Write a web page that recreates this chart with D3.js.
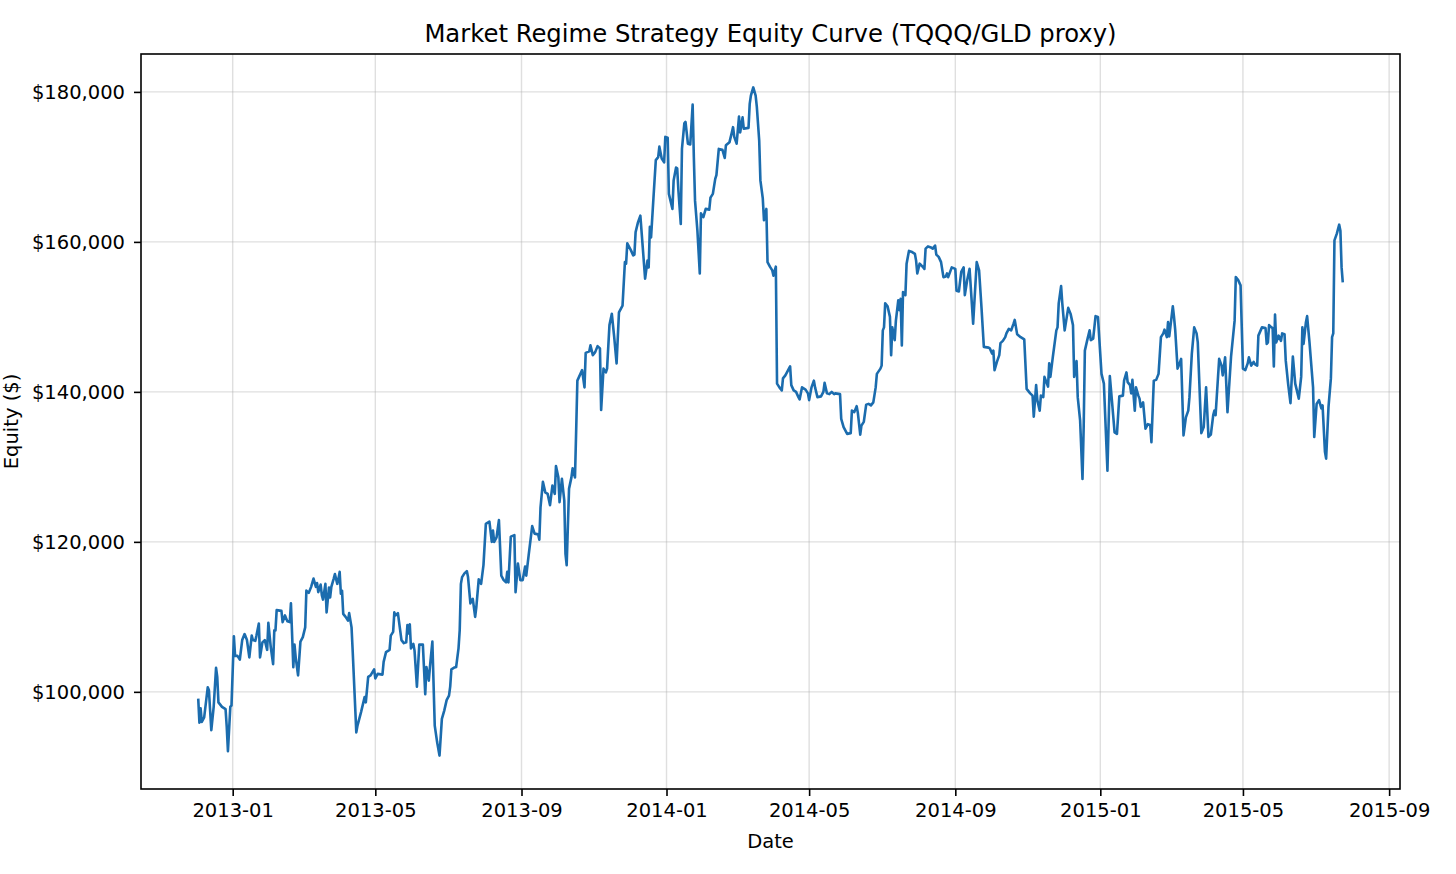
<!DOCTYPE html>
<html>
<head>
<meta charset="utf-8">
<script src="https://cdn.jsdelivr.net/npm/d3@7"></script>
<style>
  body { margin: 0; background: #fff; }
  svg text { font-family: "DejaVu Sans", sans-serif; fill: #000; }
</style>
</head>
<body>
<svg id="chart" width="1456" height="874"></svg>
<script>
// equity readings (date, value)
var dates = [
  "2012-12-03","2012-12-04","2012-12-05","2012-12-06","2012-12-08","2012-12-11","2012-12-12","2012-12-14","2012-12-16","2012-12-18","2012-12-19","2012-12-20","2012-12-23","2012-12-26","2012-12-27","2012-12-28","2012-12-30","2012-12-31",
  "2013-01-02","2013-01-03","2013-01-05","2013-01-07","2013-01-09","2013-01-11","2013-01-13","2013-01-15","2013-01-17","2013-01-18","2013-01-20","2013-01-21","2013-01-23","2013-01-24","2013-01-26","2013-01-28","2013-01-30","2013-01-31",
  "2013-02-02","2013-02-04","2013-02-05","2013-02-06","2013-02-07","2013-02-11","2013-02-12","2013-02-14","2013-02-16","2013-02-18","2013-02-19","2013-02-21","2013-02-22","2013-02-23","2013-02-25","2013-02-27",
  "2013-03-01","2013-03-03","2013-03-04","2013-03-06","2013-03-08","2013-03-10","2013-03-12","2013-03-13","2013-03-14","2013-03-16","2013-03-17","2013-03-18","2013-03-20","2013-03-21","2013-03-23","2013-03-24","2013-03-25","2013-03-27","2013-03-28","2013-03-30","2013-03-31",
  "2013-04-01","2013-04-02","2013-04-03","2013-04-04","2013-04-06","2013-04-08","2013-04-09","2013-04-11","2013-04-12","2013-04-15","2013-04-16","2013-04-19","2013-04-22","2013-04-23","2013-04-25","2013-04-27","2013-04-30",
  "2013-05-01","2013-05-03","2013-05-07","2013-05-08","2013-05-10","2013-05-13","2013-05-14","2013-05-16","2013-05-17","2013-05-18","2013-05-20","2013-05-23","2013-05-25","2013-05-27","2013-05-28","2013-05-29","2013-05-30","2013-05-31",
  "2013-06-02","2013-06-03","2013-06-05","2013-06-07","2013-06-10","2013-06-12","2013-06-13","2013-06-15","2013-06-16","2013-06-18","2013-06-20","2013-06-22","2013-06-24","2013-06-26","2013-06-28","2013-06-30",
  "2013-07-02","2013-07-03","2013-07-04","2013-07-06","2013-07-08","2013-07-10","2013-07-11","2013-07-12","2013-07-13","2013-07-15","2013-07-17","2013-07-18","2013-07-20","2013-07-21","2013-07-22","2013-07-24","2013-07-25","2013-07-27","2013-07-29","2013-07-31",
  "2013-08-02","2013-08-05","2013-08-07","2013-08-08","2013-08-09","2013-08-11","2013-08-13","2013-08-15","2013-08-17","2013-08-19","2013-08-20","2013-08-21","2013-08-23","2013-08-26","2013-08-27","2013-08-29","2013-08-31",
  "2013-09-02","2013-09-04","2013-09-05","2013-09-07","2013-09-10","2013-09-12","2013-09-15","2013-09-16","2013-09-17","2013-09-19","2013-09-21","2013-09-23","2013-09-25","2013-09-27","2013-09-29","2013-09-30",
  "2013-10-02","2013-10-03","2013-10-05","2013-10-07","2013-10-08","2013-10-09","2013-10-11","2013-10-13","2013-10-14","2013-10-16","2013-10-17","2013-10-18","2013-10-22","2013-10-24","2013-10-25","2013-10-28","2013-10-29","2013-10-31",
  "2013-11-02","2013-11-04","2013-11-06","2013-11-07","2013-11-09","2013-11-11","2013-11-12","2013-11-14","2013-11-16","2013-11-18","2013-11-20","2013-11-22","2013-11-25","2013-11-27","2013-11-28","2013-11-29",
  "2013-12-02","2013-12-04","2013-12-05","2013-12-06","2013-12-08","2013-12-10","2013-12-12","2013-12-14","2013-12-16","2013-12-17","2013-12-18","2013-12-19","2013-12-21","2013-12-23","2013-12-25","2013-12-26","2013-12-28","2013-12-30","2013-12-31",
  "2014-01-02","2014-01-03","2014-01-06","2014-01-07","2014-01-09","2014-01-10","2014-01-11","2014-01-13","2014-01-14","2014-01-16","2014-01-17","2014-01-19","2014-01-21","2014-01-23","2014-01-24","2014-01-25","2014-01-27","2014-01-29","2014-01-30",
  "2014-02-01","2014-02-03","2014-02-06","2014-02-07","2014-02-09","2014-02-11","2014-02-12","2014-02-14","2014-02-17","2014-02-19","2014-02-20","2014-02-23","2014-02-25","2014-02-26","2014-02-27",
  "2014-03-01","2014-03-03","2014-03-04","2014-03-06","2014-03-07","2014-03-11","2014-03-12","2014-03-13","2014-03-15","2014-03-17","2014-03-18","2014-03-20","2014-03-21","2014-03-23","2014-03-24","2014-03-26","2014-03-27","2014-03-29","2014-03-31",
  "2014-04-01","2014-04-03","2014-04-04","2014-04-06","2014-04-08","2014-04-09","2014-04-11","2014-04-13","2014-04-15","2014-04-16","2014-04-18","2014-04-20","2014-04-22","2014-04-23","2014-04-25","2014-04-28","2014-04-30",
  "2014-05-01","2014-05-03","2014-05-05","2014-05-06","2014-05-08","2014-05-11","2014-05-13","2014-05-14","2014-05-16","2014-05-18","2014-05-20","2014-05-22","2014-05-23","2014-05-27","2014-05-28","2014-05-30",
  "2014-06-02","2014-06-05","2014-06-06","2014-06-08","2014-06-10","2014-06-11","2014-06-13","2014-06-14","2014-06-16","2014-06-18","2014-06-20","2014-06-22","2014-06-24","2014-06-26","2014-06-27","2014-06-30",
  "2014-07-01","2014-07-02","2014-07-03","2014-07-04","2014-07-06","2014-07-08","2014-07-09","2014-07-10","2014-07-12","2014-07-13","2014-07-15","2014-07-16","2014-07-17","2014-07-18","2014-07-19","2014-07-21","2014-07-22","2014-07-24","2014-07-26","2014-07-29","2014-07-30","2014-07-31",
  "2014-08-02","2014-08-05","2014-08-06","2014-08-07","2014-08-09","2014-08-11","2014-08-13","2014-08-15","2014-08-16","2014-08-18","2014-08-20","2014-08-22","2014-08-24","2014-08-25","2014-08-26","2014-08-29",
  "2014-09-01","2014-09-02","2014-09-04","2014-09-06","2014-09-08","2014-09-09","2014-09-11","2014-09-13","2014-09-16","2014-09-19","2014-09-21","2014-09-23","2014-09-25","2014-09-29","2014-09-30",
  "2014-10-02","2014-10-03","2014-10-04","2014-10-06","2014-10-08","2014-10-09","2014-10-11","2014-10-13","2014-10-14","2014-10-16","2014-10-18","2014-10-20","2014-10-21","2014-10-23","2014-10-26","2014-10-28","2014-10-29","2014-10-31",
  "2014-11-03","2014-11-05","2014-11-06","2014-11-08","2014-11-09","2014-11-11","2014-11-12","2014-11-14","2014-11-15","2014-11-18","2014-11-19","2014-11-20","2014-11-22","2014-11-25","2014-11-26","2014-11-27","2014-11-29","2014-11-30",
  "2014-12-02","2014-12-05","2014-12-07","2014-12-09","2014-12-10","2014-12-12","2014-12-13","2014-12-15","2014-12-17","2014-12-18","2014-12-19","2014-12-21","2014-12-23","2014-12-24","2014-12-26","2014-12-28","2014-12-30",
  "2015-01-02","2015-01-04","2015-01-07","2015-01-09","2015-01-11","2015-01-13","2015-01-15","2015-01-17","2015-01-20","2015-01-21","2015-01-23","2015-01-24","2015-01-26","2015-01-27","2015-01-28","2015-01-30","2015-01-31",
  "2015-02-02","2015-02-03","2015-02-04","2015-02-06","2015-02-08","2015-02-10","2015-02-12","2015-02-13","2015-02-15","2015-02-17","2015-02-19","2015-02-21","2015-02-23","2015-02-24","2015-02-26","2015-02-27","2015-02-28",
  "2015-03-03","2015-03-04","2015-03-05","2015-03-07","2015-03-08","2015-03-10","2015-03-12","2015-03-14","2015-03-16","2015-03-17","2015-03-19","2015-03-21","2015-03-23","2015-03-24","2015-03-26","2015-03-27","2015-03-29","2015-03-31",
  "2015-04-02","2015-04-04","2015-04-06","2015-04-07","2015-04-08","2015-04-11","2015-04-13","2015-04-14","2015-04-16","2015-04-18","2015-04-21","2015-04-24","2015-04-25","2015-04-27","2015-04-29",
  "2015-05-01","2015-05-03","2015-05-05","2015-05-06","2015-05-08","2015-05-10","2015-05-11","2015-05-13","2015-05-14","2015-05-17","2015-05-20","2015-05-21","2015-05-22","2015-05-23","2015-05-25","2015-05-26","2015-05-27","2015-05-28","2015-05-29","2015-05-31",
  "2015-06-02","2015-06-03","2015-06-05","2015-06-06","2015-06-08","2015-06-10","2015-06-12","2015-06-14","2015-06-17","2015-06-19","2015-06-20","2015-06-21","2015-06-23","2015-06-24","2015-06-26","2015-06-29","2015-06-30",
  "2015-07-02","2015-07-04","2015-07-06","2015-07-07","2015-07-09","2015-07-10","2015-07-12","2015-07-14","2015-07-15","2015-07-16","2015-07-17","2015-07-19","2015-07-21","2015-07-22","2015-07-23","2015-07-24"
];

var equity = [
  99100,95900,97800,96000,96600,100600,100200,94900,98000,103200,102000,98600,98000,97700,95300,92100,98000,98200,
  107400,104800,104800,104300,106900,107700,106900,104600,107500,106900,106800,107500,109100,104600,106600,106900,105600,109200,
  106000,103700,108200,108200,110900,110800,109300,110200,109400,109300,111800,103300,106300,104600,102200,106700,
  107300,108600,113500,113200,114000,115100,114000,114500,113300,114300,112900,112300,114400,110600,113900,112600,114000,115100,115700,114400,115100,
  116000,113100,113500,110400,110000,109500,110500,108600,105300,94600,95500,97300,99300,98600,102000,102200,103000,
  101800,102400,102300,104000,105300,105600,107500,108000,110600,110200,110500,106900,106500,106600,108900,107800,109000,105800,
  106400,105500,100700,106300,106300,99700,103300,101500,103400,106700,95500,93300,91500,96400,97500,98900,
  99500,100700,103000,103200,103300,105800,108200,114400,115300,115800,116100,115300,111800,112200,112400,110000,111300,115000,114400,116900,
  122400,122700,120000,121500,120000,120600,122900,115500,114900,114600,116000,114600,120700,120900,113300,117100,114900,
  114900,116700,115500,118200,122100,121100,121000,120300,124600,128000,126600,126400,124900,127500,126400,130100,
  128600,125300,128400,125500,118400,116900,127100,128600,129800,128600,134900,141500,142900,140600,145200,145400,146200,144900,
  145300,146100,145800,137600,143100,142600,143100,148900,150400,147300,143800,150600,151500,157300,157100,159800,
  158900,158200,158300,161300,162600,163500,159300,155100,157500,156600,162000,160600,165800,170900,171300,172700,171100,170600,174000,
  173900,166400,164400,168200,169900,169800,166900,162400,172400,175800,176000,173100,173000,178300,171300,165500,161500,155800,163800,
  163300,164400,164300,165900,166400,168400,168900,172400,172300,171200,172900,173300,174600,175300,174000,
  173100,176700,174600,176600,175100,175200,178400,179500,180600,179500,178000,173500,168200,165800,162900,164400,157300,156700,156200,
  155500,156700,141100,140600,140200,141800,142200,142800,143400,140900,140200,140000,139300,139000,140600,140300,139800,
  138900,140600,141500,140600,139300,139400,140000,141200,139800,139700,140000,139700,139800,139700,136400,135300,
  134400,134500,137500,137300,138100,137200,134300,135500,136000,138300,138400,138200,138600,140600,142400,143100,
  143500,148200,148600,151800,151400,150000,144900,148600,146900,149500,152200,150900,152400,146200,153300,152900,157100,158800,158700,158400,157500,155800,
  157100,156600,156400,159100,159400,159300,159100,159500,158300,158000,157300,155300,155400,155800,155300,156600,
  156400,153500,153400,156000,156600,152900,154900,156400,149100,157300,156200,151300,146000,145900,145800,
  145100,145500,142900,144000,144900,146500,146800,147300,147800,148400,148200,149100,149600,147700,147300,147100,147000,140400,
  139800,139500,136700,140900,138900,137500,139500,139300,142000,140700,143800,142000,144600,148200,148600,151800,154100,151800,
  148200,151200,150400,148900,142000,144100,139300,136200,128400,135300,145500,146900,148200,146900,147100,150100,150000,
  142400,141100,129500,142100,138400,134600,134400,139400,139500,141500,142600,141300,140900,139800,141600,137500,140600,
  139500,139100,138000,138600,135100,135700,135600,133300,141500,141600,142400,147300,147800,148300,147300,149300,147400,
  151400,150000,148300,143100,143500,144400,134200,136600,137500,139300,145100,148600,147800,146600,138400,134500,135300,140600,
  134000,134300,136900,137500,136900,144400,143500,142200,144600,137300,144700,149500,155300,154900,154200,
  143100,142900,143800,144600,143500,144000,143700,143500,147500,148600,148500,146400,146600,148900,148600,148500,143400,150300,146600,147500,
  146800,147800,147700,144200,141100,138500,144700,141100,139100,142000,148600,146400,149300,150100,146600,140600,134000,
  138400,138900,137800,138200,132000,131100,138000,141800,147300,147800,160200,161100,162300,161500,156600,154600
];

var yTickValues = [100000, 120000, 140000, 160000, 180000];
var xTickLabels = ["2013-01","2013-05","2013-09","2014-01","2014-05","2014-09","2015-01","2015-05","2015-09"];

var chartTitle = "Market Regime Strategy Equity Curve (TQQQ/GLD proxy)";
var xLabel = "Date";
var yLabel = "Equity ($)";

var width = 1456, height = 874;
var margin = {top: 54, right: 56, bottom: 85, left: 141};
var innerW = width - margin.left - margin.right;
var innerH = height - margin.top - margin.bottom;

var parseDay = d3.utcParse("%Y-%m-%d");
var parseMonth = d3.utcParse("%Y-%m");

var data = dates.map(function (d, i) {
  return {date: parseDay(d), value: equity[i]};
});

// matplotlib style 5% margins
var xExt = d3.extent(data, function (d) { return d.date; });
var xPad = (xExt[1] - xExt[0]) * 0.05;
var yExt = d3.extent(data, function (d) { return d.value; });
var yPad = (yExt[1] - yExt[0]) * 0.05;

var x = d3.scaleUtc()
  .domain([new Date(+xExt[0] - xPad), new Date(+xExt[1] + xPad)])
  .range([0, innerW]);

var y = d3.scaleLinear()
  .domain([yExt[0] - yPad, yExt[1] + yPad])
  .range([innerH, 0]);

var svg = d3.select("#chart");
svg.append("rect").attr("width", width).attr("height", height).attr("fill", "#fff");

var g = svg.append("g").attr("transform", "translate(" + margin.left + "," + margin.top + ")");

var xTicks = xTickLabels.map(function (s) { return parseMonth(s); });

// grid
g.append("g").selectAll("line").data(xTicks).enter().append("line")
  .attr("x1", function (d) { return x(d); }).attr("x2", function (d) { return x(d); })
  .attr("y1", 0).attr("y2", innerH)
  .attr("stroke", "#b0b0b0").attr("stroke-opacity", 0.4).attr("stroke-width", 1.4);

g.append("g").selectAll("line").data(yTickValues).enter().append("line")
  .attr("x1", 0).attr("x2", innerW)
  .attr("y1", function (d) { return y(d); }).attr("y2", function (d) { return y(d); })
  .attr("stroke", "#b0b0b0").attr("stroke-opacity", 0.4).attr("stroke-width", 1.4);

// equity line
var line = d3.line()
  .x(function (d) { return x(d.date); })
  .y(function (d) { return y(d.value); });

g.append("path")
  .datum(data)
  .attr("fill", "none")
  .attr("stroke", "#1b6cae")
  .attr("stroke-width", 2.6)
  .attr("stroke-linejoin", "round")
  .attr("d", line);

// axes
var xAxis = d3.axisBottom(x)
  .tickValues(xTicks)
  .tickFormat(d3.utcFormat("%Y-%m"))
  .tickSize(7).tickPadding(7).tickSizeOuter(0);

var yAxis = d3.axisLeft(y)
  .tickValues(yTickValues)
  .tickFormat(d3.format("$,.0f"))
  .tickSize(7).tickPadding(9).tickSizeOuter(0);

var gx = g.append("g").attr("transform", "translate(0," + innerH + ")").call(xAxis);
var gy = g.append("g").call(yAxis);

[gx, gy].forEach(function (ax) {
  ax.select(".domain").remove();
  ax.selectAll(".tick line").attr("stroke", "#000").attr("stroke-width", 1.6);
  ax.selectAll(".tick text")
    .attr("font-family", "DejaVu Sans, sans-serif")
    .attr("font-size", 19.5)
    .attr("fill", "#000");
});

// frame
g.append("rect")
  .attr("x", 0).attr("y", 0)
  .attr("width", innerW).attr("height", innerH)
  .attr("fill", "none")
  .attr("stroke", "#000")
  .attr("stroke-width", 1.6);

// title and labels
svg.append("text")
  .attr("x", margin.left + innerW / 2)
  .attr("y", 42)
  .attr("text-anchor", "middle")
  .attr("font-size", 24.3)
  .text(chartTitle);

svg.append("text")
  .attr("x", margin.left + innerW / 2)
  .attr("y", 848)
  .attr("text-anchor", "middle")
  .attr("font-size", 19.5)
  .text(xLabel);

svg.append("text")
  .attr("transform", "translate(18," + (margin.top + innerH / 2) + ") rotate(-90)")
  .attr("text-anchor", "middle")
  .attr("font-size", 19.5)
  .text(yLabel);
</script>
</body>
</html>
